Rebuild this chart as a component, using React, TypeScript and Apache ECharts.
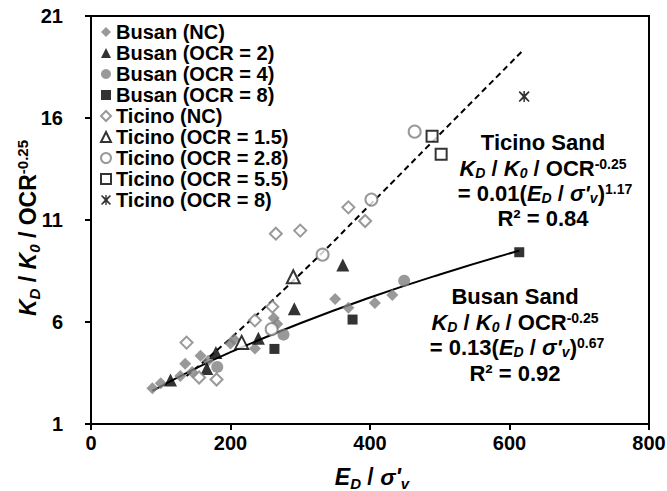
import React, { useEffect, useRef } from "react";
import * as echarts from "echarts";

// ---- data (x = E_D / σ'v, y = K_D / K_0 / OCR^-0.25) ----
const busanNC = [
  [88, 2.75], [100, 3.0], [128, 3.35], [135, 3.95], [145, 3.55], [157, 4.35], [168, 4.1],
  [200, 4.95], [205, 5.15], [235, 4.7], [262, 6.2], [267, 5.9], [350, 7.13], [369, 6.7],
  [407, 6.93], [432, 7.32],
];
const busanOCR2 = [[114, 3.16], [166, 3.72], [179, 4.5], [240, 5.2], [291.5, 6.65], [361, 8.79]];
const busanOCR4 = [[181, 3.8], [276, 5.38], [449, 8.02]];
const busanOCR8 = [[263, 4.68], [375, 6.12], [614, 9.42]];
const ticinoNC = [
  [137, 4.99], [155, 3.28], [180, 3.18], [235, 6.08], [260, 6.75], [265, 10.33], [300, 10.48],
  [369, 11.62], [393, 10.95],
];
const ticinoOCR15 = [[216, 5.0], [290, 8.22]];
const ticinoOCR28 = [[259, 5.65], [332, 9.3], [402, 12.0], [464, 15.33]];
const ticinoOCR55 = [[489, 15.1], [502, 14.22]];
const ticinoOCR8 = [[621, 17.05]];

// trend lines
const busanFit = [[88, 2.62], [150, 3.73], [200, 4.52], [300, 5.94], [400, 7.2], [500, 8.33], [614, 9.5]];
const ticinoFit = [[137, 3.35], [200, 5.2], [300, 8.35], [400, 11.75], [500, 15.2], [619, 19.3]];

const seriesNames = [
  "Busan (NC)", "Busan (OCR = 2)", "Busan (OCR = 4)", "Busan (OCR = 8)",
  "Ticino (NC)", "Ticino (OCR = 1.5)", "Ticino (OCR = 2.8)", "Ticino (OCR = 5.5)", "Ticino (OCR = 8)",
];

const xTicks = [0, 200, 400, 600, 800];
const yTicks = [1, 6, 11, 16, 21];

const xTitle = "{i|E}{sub|D}{b| / }{i|σ'}{sub|v}";
const yTitle = "{i|K}{sub|D}{b| / }{i|K}{sub|0}{b| / OCR}{sup|-0.25}";

const FONT = "Arial, 'Liberation Sans', sans-serif";
const GRAY = "#808080";
const STAR = "path://M1,0 L5,3.6 L9,0 L10,1 L6.4,5 L10,9 L9,10 L5,6.4 L1,10 L0,9 L3.6,5 L0,1 Z M4.3,0 L5.7,0 L5.7,10 L4.3,10 Z";

function makeRich(fs: number, lh: number) {
  const small = Math.round(fs * 0.64);
  return {
    b: { fontFamily: FONT, fontWeight: "bold", fontSize: fs, lineHeight: lh, color: "#000" },
    i: { fontFamily: FONT, fontWeight: "bold", fontStyle: "italic", fontSize: fs, lineHeight: lh, color: "#000" },
    sub: { fontFamily: FONT, fontWeight: "bold", fontStyle: "italic", fontSize: small, lineHeight: small, verticalAlign: "bottom", color: "#000" },
    sup: { fontFamily: FONT, fontWeight: "bold", fontSize: small, lineHeight: small, verticalAlign: "top", color: "#000" },
  };
}
const richNote = makeRich(22, 23);
const richAxis = makeRich(23, 27);

function txt(x: number, y: number, text: string, rich: any = richNote, rotation = 0) {
  return {
    type: "text",
    x,
    y,
    rotation,
    style: { text, rich, align: "center", verticalAlign: "middle", textAlign: "center", textVerticalAlign: "middle" },
  };
}

export default function App() {
  const ref = useRef<HTMLDivElement>(null);
  useEffect(() => {
    const chart = echarts.init(ref.current!, null, { renderer: "svg" });
    const scatter = (name: string, data: number[][], symbol: string, size: number, itemStyle: any) => ({
      name,
      type: "scatter",
      data,
      symbol,
      symbolSize: size,
      itemStyle,
      z: 3,
    });
    chart.setOption({
      animation: false,
      backgroundColor: "#fff",
      grid: {
        left: 91, right: 18, top: 16, bottom: 67,
        outerBoundsMode: "none",
        containLabel: false,
        show: true, borderColor: "#000", borderWidth: 2, backgroundColor: "transparent",
      },
      legend: {
        data: seriesNames,
        orient: "vertical",
        left: 100,
        top: 22,
        itemGap: 1,
        itemWidth: 10,
        itemHeight: 10,
        padding: 0,
        textStyle: { fontFamily: FONT, fontWeight: "bold", fontSize: 20, lineHeight: 20, color: "#000" },
      },
      xAxis: {
        type: "value",
        min: xTicks[0],
        max: xTicks[xTicks.length - 1],
        interval: 200,
        axisLine: { show: true, lineStyle: { color: "#000", width: 2 } },
        axisTick: { show: true, inside: false, length: 6, lineStyle: { color: "#000", width: 2 } },
        splitLine: { show: false },
        axisLabel: { fontFamily: FONT, fontWeight: "bold", fontSize: 20, color: "#000", margin: 9 },
      },
      yAxis: {
        type: "value",
        min: yTicks[0],
        max: yTicks[yTicks.length - 1],
        interval: 5,
        axisLine: { show: true, lineStyle: { color: "#000", width: 2 } },
        axisTick: { show: true, inside: false, length: 6, lineStyle: { color: "#000", width: 2 } },
        splitLine: { show: false },
        axisLabel: { fontFamily: FONT, fontWeight: "bold", fontSize: 20, color: "#000", margin: 28 },
      },
      series: [
        scatter(seriesNames[0], busanNC, "diamond", 12, { color: GRAY }),
        scatter(seriesNames[1], busanOCR2, "triangle", 13, { color: "#000" }),
        scatter(seriesNames[2], busanOCR4, "circle", 12, { color: GRAY }),
        scatter(seriesNames[3], busanOCR8, "rect", 10, { color: "#000" }),
        scatter(seriesNames[4], ticinoNC, "diamond", 12, { color: "#fff", borderColor: GRAY, borderWidth: 2 }),
        scatter(seriesNames[5], ticinoOCR15, "triangle", 13, { color: "#fff", borderColor: "#000", borderWidth: 2 }),
        scatter(seriesNames[6], ticinoOCR28, "circle", 12, { color: "#fff", borderColor: GRAY, borderWidth: 2 }),
        scatter(seriesNames[7], ticinoOCR55, "rect", 11, { color: "#fff", borderColor: "#000", borderWidth: 2 }),
        scatter(seriesNames[8], ticinoOCR8, STAR, 11, { color: "#000" }),
        {
          name: "Busan fit",
          type: "line",
          data: busanFit,
          smooth: true,
          showSymbol: false,
          symbol: "none",
          lineStyle: { color: "#000", width: 2 },
          z: 2,
        },
        {
          name: "Ticino fit",
          type: "line",
          data: ticinoFit,
          smooth: true,
          showSymbol: false,
          symbol: "none",
          lineStyle: { color: "#000", width: 2, type: [6, 4] },
          z: 2,
        },
      ],
      graphic: [
        txt(372, 477, xTitle, richAxis),
        txt(28, 228, yTitle, richAxis, Math.PI / 2),
        txt(543, 142, "{b|Ticino Sand}"),
        txt(543, 168, "{i|K}{sub|D}{b| / }{i|K}{sub|0}{b| / OCR}{sup|-0.25}"),
        txt(545, 193, "{b|= 0.01(}{i|E}{sub|D}{b| / }{i|σ'}{sub|v}{b|)}{sup|1.17}"),
        txt(543, 218, "{b|R² = 0.84}"),
        txt(515, 296, "{b|Busan Sand}"),
        txt(515, 322, "{i|K}{sub|D}{b| / }{i|K}{sub|0}{b| / OCR}{sup|-0.25}"),
        txt(517, 347, "{b|= 0.13(}{i|E}{sub|D}{b| / }{i|σ'}{sub|v}{b|)}{sup|0.67}"),
        txt(515, 373, "{b|R² = 0.92}"),
      ],
    });
    return () => chart.dispose();
  }, []);
  return <div ref={ref} style={{ position: "fixed", left: 0, top: 0, width: 667, height: 491, background: "#fff" }} />;
}
